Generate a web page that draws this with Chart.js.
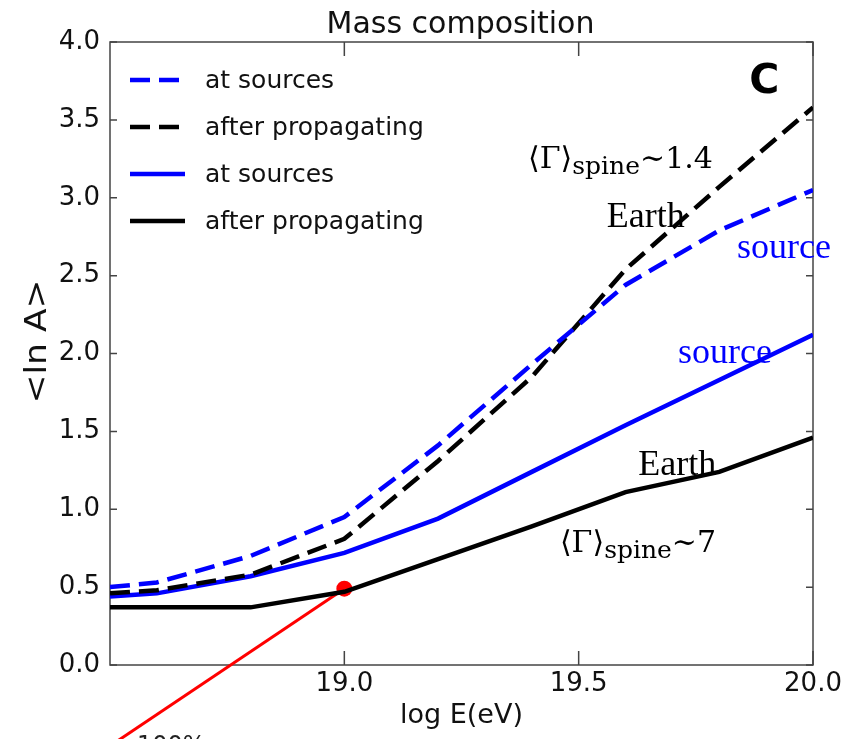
<!DOCTYPE html>
<html>
<head>
<meta charset="utf-8">
<title>Mass composition</title>
<script src="https://cdn.jsdelivr.net/npm/chart.js@4.4.1/dist/chart.umd.min.js"></script>
<style>
  html, body { margin: 0; padding: 0; background: #fff; }
  #wrap { width: 850px; height: 739px; }
</style>
</head>
<body>
<div id="wrap"><canvas id="massChart" width="850" height="739"></canvas></div>
<script>
// values
const logE = [18.5, 18.6, 18.8, 19.0, 19.2, 19.4, 19.6, 19.8, 20.0];
const lnASourceSpine14 = [0.50, 0.53, 0.70, 0.95, 1.41, 1.93, 2.44, 2.79, 3.05];
const lnAEarthSpine14  = [0.46, 0.48, 0.58, 0.81, 1.31, 1.85, 2.54, 3.07, 3.58];
const lnASourceSpine7  = [0.44, 0.46, 0.57, 0.72, 0.94, 1.24, 1.54, 1.83, 2.12];
const lnAEarthSpine7   = [0.37, 0.37, 0.37, 0.47, 0.68, 0.89, 1.11, 1.24, 1.46];
const markerLogE = [18.5, 19.0];
const markerLnA  = [-0.52, 0.49];
const xTickValues = [19.0, 19.5, 20.0];
const yTickValues = [0.0, 0.5, 1.0, 1.5, 2.0, 2.5, 3.0, 3.5, 4.0];
const legendLabels = ['at sources', 'after propagating', 'at sources', 'after propagating'];

const BLUE = '#0000ff';
const BLACK = '#000000';
const SANS = '"DejaVu Sans", sans-serif';
const SERIF = '"Liberation Serif", "Times New Roman", serif';
const MATH = '"DejaVu Serif", "DejaVu Sans", serif';

const toPoints = (xs, ys) => xs.map((x, i) => ({ x: x, y: ys[i] }));

function lineSet(label, values, color, dashed) {
    return {
        label: label,
        data: toPoints(logE, values),
        borderColor: color,
        backgroundColor: color,
        borderWidth: 4.5,
        borderDash: dashed ? [20, 9] : [],
        pointRadius: 0,
        tension: 0
    };
}

// frame + inward ticks on all four sides (matplotlib style)
const framePlugin = {
    id: 'frame',
    beforeDatasetsDraw(chart) {
        const { ctx, chartArea: a, scales } = chart;
        ctx.save();
        ctx.strokeStyle = '#444';
        ctx.lineWidth = 1.5;
        ctx.strokeRect(a.left, a.top, a.right - a.left, a.bottom - a.top);
        ctx.beginPath();
        xTickValues.forEach(v => {
            const x = scales.x.getPixelForValue(v);
            ctx.moveTo(x, a.bottom); ctx.lineTo(x, a.bottom - 14);
            ctx.moveTo(x, a.top); ctx.lineTo(x, a.top + 14);
        });
        yTickValues.forEach(v => {
            const y = scales.y.getPixelForValue(v);
            ctx.moveTo(a.left, y); ctx.lineTo(a.left + 7, y);
            ctx.moveTo(a.right, y); ctx.lineTo(a.right - 7, y);
        });
        ctx.stroke();
        ctx.restore();
    }
};

// title, axis titles, legend and the hand-placed annotations
const decorPlugin = {
    id: 'decor',
    afterDraw(chart) {
        const { ctx, chartArea: a, scales } = chart;
        const px = v => scales.x.getPixelForValue(v);
        const py = v => scales.y.getPixelForValue(v);
        const cx = (a.left + a.right) / 2;
        ctx.save();

        ctx.fillStyle = '#111';
        ctx.textAlign = 'center';
        ctx.textBaseline = 'alphabetic';
        ctx.font = '30px ' + SANS;
        ctx.fillText('Mass composition', cx - 1, 33);

        ctx.font = '27px ' + SANS;
        ctx.fillText('log E(eV)', cx, 723);

        ctx.save();
        ctx.translate(38, (a.top + a.bottom) / 2 - 12);
        ctx.rotate(-Math.PI / 2);
        ctx.scale(1.15, 1);
        ctx.textBaseline = 'middle';
        ctx.font = '30px ' + SANS;
        ctx.fillText('<ln A>', 0, 0);
        ctx.restore();

        // partially visible label under the red pointer
        ctx.textAlign = 'left';
        ctx.font = '24px ' + SANS;
        ctx.fillStyle = '#222';
        ctx.fillText('100%', 137, 753);

        // legend
        const sets = chart.data.datasets;
        ctx.font = '25px ' + SANS;
        ctx.textBaseline = 'middle';
        legendLabels.forEach((label, i) => {
            const y = a.top + 38 + i * 47;
            const ds = sets[i];
            ctx.strokeStyle = ds.borderColor;
            ctx.lineWidth = 4.5;
            ctx.setLineDash(ds.borderDash);
            ctx.beginPath();
            ctx.moveTo(a.left + 20, y);
            ctx.lineTo(a.left + 75, y);
            ctx.stroke();
            ctx.setLineDash([]);
            ctx.fillStyle = '#111';
            ctx.fillText(label, a.left + 95, y + 1);
        });

        // panel letter
        ctx.textBaseline = 'alphabetic';
        ctx.fillStyle = '#000';
        ctx.font = 'bold 41px ' + SANS;
        ctx.fillText('C', px(19.864), py(3.67));

        // curve annotations
        ctx.font = '36px ' + SERIF;
        ctx.fillStyle = BLACK;
        ctx.fillText('Earth', px(19.560), py(2.81));
        ctx.fillText('Earth', px(19.627), py(1.22));
        ctx.fillStyle = BLUE;
        ctx.fillText('source', px(19.838), py(2.61));
        ctx.fillText('source', px(19.712), py(1.94));

        const spineLabel = (x, y, value) => {
            ctx.fillStyle = BLACK;
            ctx.font = '30px ' + MATH;
            ctx.fillText('\u27E8\u0393\u27E9', x, y);
            let w = ctx.measureText('\u27E8\u0393\u27E9').width;
            ctx.font = '25px ' + MATH;
            ctx.fillText('spine', x + w, y + 6);
            w += ctx.measureText('spine').width;
            ctx.font = '30px ' + MATH;
            ctx.fillText('\u223C' + value, x + w, y);
        };
        spineLabel(px(19.392), py(3.19), '1.4');
        spineLabel(px(19.460), py(0.725), '7');

        ctx.restore();
    }
};

const tickFont = { family: 'DejaVu Sans', size: 26 };

new Chart(document.getElementById('massChart'), {
    type: 'line',
    data: {
        datasets: [
            lineSet('at sources', lnASourceSpine14, BLUE, true),
            lineSet('after propagating', lnAEarthSpine14, BLACK, true),
            lineSet('at sources', lnASourceSpine7, BLUE, false),
            lineSet('after propagating', lnAEarthSpine7, BLACK, false),
            {
                label: 'pointer',
                data: toPoints(markerLogE, markerLnA),
                borderColor: '#ff0000',
                backgroundColor: '#ff0000',
                borderWidth: 3,
                pointRadius: [0, 8],
                pointBorderWidth: 0,
                clip: false
            }
        ]
    },
    options: {
        responsive: false,
        animation: false,
        layout: { padding: { top: 42, right: 37, bottom: 0, left: 0 } },
        plugins: {
            legend: { display: false },
            title: { display: false },
            tooltip: { enabled: false }
        },
        scales: {
            x: {
                type: 'linear',
                min: 18.5,
                max: 20.0,
                afterFit: s => { s.height = 74; },
                afterBuildTicks: s => { s.ticks = xTickValues.map(v => ({ value: v })); },
                grid: { display: false, drawTicks: false },
                border: { display: false },
                ticks: {
                    padding: 4,
                    font: tickFont,
                    color: '#111',
                    maxRotation: 0,
                    autoSkip: false,
                    callback: v => v.toFixed(1)
                }
            },
            y: {
                type: 'linear',
                min: 0,
                max: 4.0,
                afterFit: s => { s.width = 110; },
                afterBuildTicks: s => { s.ticks = yTickValues.map(v => ({ value: v })); },
                grid: { display: false, drawTicks: false },
                border: { display: false },
                ticks: {
                    padding: 10,
                    font: tickFont,
                    color: '#111',
                    autoSkip: false,
                    callback: v => v.toFixed(1)
                }
            }
        }
    },
    plugins: [framePlugin, decorPlugin]
});
</script>
</body>
</html>
